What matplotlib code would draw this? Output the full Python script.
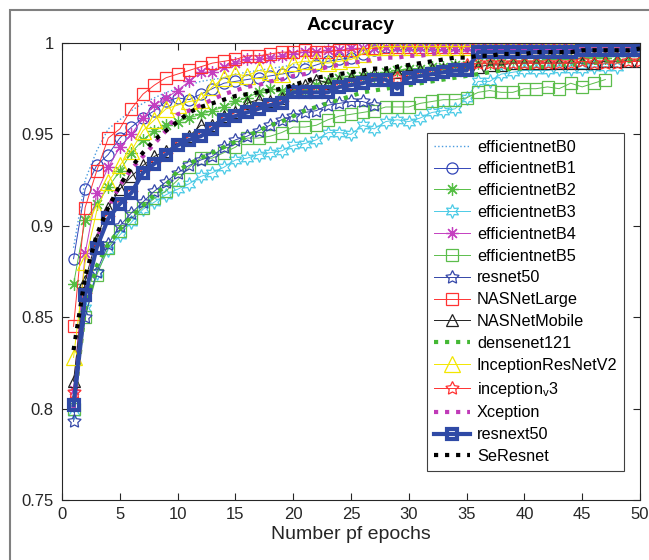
import matplotlib
matplotlib.use("Agg")
import matplotlib.pyplot as plt
from matplotlib.patches import Rectangle

plt.rcParams['font.family'] = ['Liberation Sans', 'DejaVu Sans']
plt.rcParams['mathtext.fontset'] = 'custom'
plt.rcParams['mathtext.rm'] = 'Liberation Sans'
plt.rcParams['mathtext.it'] = 'Liberation Sans'

title = "Accuracy"
xlabel = "Number pf epochs"
xticks = [0, 5, 10, 15, 20, 25, 30, 35, 40, 45, 50]
yticks = [0.75, 0.8, 0.85, 0.9, 0.95, 1.0]
ytick_labels = ["0.75", "0.8", "0.85", "0.9", "0.95", "1"]

efficientnetB0 = [0.888, 0.925, 0.941, 0.953, 0.958, 0.963, 0.967, 0.970, 0.973, 0.975,
                  0.977, 0.979, 0.980, 0.981, 0.983, 0.984, 0.985, 0.986, 0.987, 0.988,
                  0.989, 0.990, 0.991, 0.992, 0.993, 0.994, 0.995, 0.996, 0.997, 0.997,
                  0.997, 0.997, 0.998, 0.998, 0.998, 0.998, 0.998, 0.998, 0.998, 0.998,
                  0.998, 0.998, 0.998, 0.998, 0.998, 0.998, 0.998, 0.998, 0.998, 0.998]
efficientnetB1 = [0.882, 0.920, 0.933, 0.939, 0.948, 0.954, 0.959, 0.963, 0.968, 0.970,
                  0.969, 0.972, 0.975, 0.978, 0.979, 0.980, 0.981, 0.982, 0.983, 0.984,
                  0.986, 0.988, 0.990, 0.991, 0.992, 0.994, 0.996, 0.998, 0.999, 0.999,
                  0.999, 0.999, 0.999, 0.999, 0.999, 0.999, 0.999, 0.999, 0.999, 0.999,
                  0.999, 0.999, 0.999, 0.999, 0.999, 0.999, 0.999, 0.999, 0.999, 0.999]
efficientnetB2 = [0.868, 0.903, 0.912, 0.921, 0.930, 0.940, 0.947, 0.952, 0.955, 0.957,
                  0.959, 0.961, 0.963, 0.965, 0.968, 0.970, 0.973, 0.975, 0.974, 0.975,
                  0.974, 0.977, 0.979, 0.981, 0.982, 0.982, 0.982, 0.984, 0.985, 0.986,
                  0.986, 0.987, 0.987, 0.988, 0.988, 0.989, 0.989, 0.989, 0.990, 0.990,
                  0.990, 0.991, 0.991, 0.991, 0.992, 0.992, 0.992, 0.993, 0.993, 0.993]
efficientnetB3 = [0.798, 0.855, 0.874, 0.887, 0.895, 0.902, 0.909, 0.913, 0.917, 0.920,
                  0.923, 0.927, 0.929, 0.932, 0.936, 0.937, 0.939, 0.940, 0.941, 0.944,
                  0.945, 0.947, 0.951, 0.951, 0.950, 0.955, 0.953, 0.957, 0.958, 0.957,
                  0.959, 0.962, 0.963, 0.964, 0.970, 0.979, 0.979, 0.983, 0.984, 0.985,
                  0.985, 0.985, 0.986, 0.986, 0.986, 0.987, 0.987, 0.987]
efficientnetB4 = [0.810, 0.885, 0.918, 0.932, 0.943, 0.950, 0.959, 0.966, 0.970, 0.974,
                  0.979, 0.984, 0.984, 0.987, 0.989, 0.991, 0.991, 0.992, 0.993, 0.994,
                  0.995, 0.995, 0.996, 0.996, 0.997, 0.997, 0.997, 0.998, 0.998, 0.998,
                  0.998, 0.998, 0.998, 0.998, 0.998, 0.998, 0.998, 0.998, 0.998, 0.998,
                  0.998, 0.998, 0.998, 0.998, 0.998, 0.998, 0.998, 0.998, 0.998, 0.998]
efficientnetB5 = [0.800, 0.850, 0.873, 0.888, 0.897, 0.904, 0.910, 0.915, 0.919, 0.925,
                  0.932, 0.937, 0.937, 0.940, 0.943, 0.948, 0.948, 0.949, 0.951, 0.954,
                  0.954, 0.955, 0.958, 0.960, 0.961, 0.962, 0.963, 0.965, 0.965, 0.965,
                  0.967, 0.968, 0.969, 0.969, 0.970, 0.973, 0.974, 0.973, 0.973, 0.975,
                  0.975, 0.976, 0.975, 0.978, 0.976, 0.978, 0.980]
resnet50 = [0.793, 0.850, 0.875, 0.890, 0.900, 0.907, 0.913, 0.919, 0.924, 0.929,
            0.933, 0.936, 0.938, 0.943, 0.947, 0.949, 0.952, 0.955, 0.958, 0.960,
            0.962, 0.963, 0.966, 0.967, 0.968, 0.968, 0.966]
NASNetLarge = [0.845, 0.910, 0.930, 0.948, 0.953, 0.964, 0.972, 0.977, 0.981, 0.983,
               0.985, 0.987, 0.989, 0.990, 0.991, 0.993, 0.993, 0.994, 0.995, 0.995,
               0.996, 0.995, 0.995, 0.996, 0.996, 0.997, 0.997, 0.998, 0.998, 0.998,
               0.998, 0.998, 0.998, 0.998, 0.998, 0.998, 0.998, 0.998, 0.998, 0.998,
               0.998, 0.998, 0.998, 0.998, 0.998, 0.998, 0.998, 0.998, 0.998, 0.998]
NASNetMobile = [0.815, 0.870, 0.893, 0.910, 0.920, 0.927, 0.933, 0.938, 0.941, 0.945,
                0.949, 0.955, 0.955, 0.960, 0.962, 0.967, 0.969, 0.968, 0.970, 0.975,
                0.977, 0.980, 0.978, 0.979, 0.981, 0.982, 0.983, 0.983, 0.984, 0.985,
                0.985, 0.986, 0.986, 0.987, 0.987, 0.987, 0.988, 0.988, 0.989, 0.989,
                0.989, 0.989, 0.989, 0.989, 0.989, 0.989, 0.990, 0.990, 0.990, 0.990]
densenet121 = [0.800, 0.855, 0.878, 0.890, 0.898, 0.905, 0.911, 0.917, 0.922, 0.930,
               0.934, 0.937, 0.940, 0.943, 0.946, 0.949, 0.952, 0.955, 0.957, 0.960,
               0.963, 0.965, 0.967, 0.969, 0.971, 0.973, 0.974, 0.975, 0.976, 0.977,
               0.978, 0.979, 0.980, 0.981, 0.982, 0.983, 0.984, 0.985, 0.986, 0.986,
               0.987, 0.987, 0.988, 0.988, 0.989, 0.989, 0.990, 0.990, 0.990, 0.991]
InceptionResNetV2 = [0.828, 0.880, 0.908, 0.924, 0.933, 0.941, 0.952, 0.958, 0.964, 0.966,
                     0.968, 0.969, 0.976, 0.981, 0.983, 0.982, 0.985, 0.984, 0.983, 0.989,
                     0.990, 0.990, 0.989, 0.990, 0.991, 0.994, 0.998, 0.998, 0.998, 0.998,
                     0.998, 0.998, 0.998, 0.998, 0.998, 0.998, 0.998, 0.998, 0.998, 0.998,
                     0.998, 0.998, 0.998, 0.998, 0.998, 0.998, 0.998, 0.998, 0.998, 0.998]
inception_v3 = [0.809, 0.862, 0.888, 0.904, 0.912, 0.918, 0.929, 0.934, 0.939, 0.944,
                0.947, 0.949, 0.953, 0.958, 0.960, 0.962, 0.964, 0.966, 0.967, 0.973,
                0.973, 0.973, 0.973, 0.976, 0.977, 0.978, 0.980, 0.980, 0.981, 0.981,
                0.982, 0.983, 0.984, 0.985, 0.988, 0.989, 0.989, 0.989, 0.989, 0.989,
                0.989, 0.989, 0.989, 0.989, 0.990, 0.989, 0.989, 0.989, 0.990, 0.990]
Xception = [0.800, 0.862, 0.892, 0.910, 0.922, 0.931, 0.938, 0.945, 0.952, 0.961,
            0.963, 0.966, 0.969, 0.972, 0.974, 0.976, 0.977, 0.979, 0.980, 0.982,
            0.983, 0.985, 0.987, 0.988, 0.989, 0.990, 0.991, 0.992, 0.992, 0.993,
            0.993, 0.994, 0.995, 0.995, 0.996, 0.996, 0.996, 0.996, 0.997, 0.997,
            0.997, 0.997, 0.997, 0.997, 0.997, 0.997, 0.997, 0.997, 0.997, 0.997]
resnext50 = [0.802, 0.862, 0.888, 0.904, 0.912, 0.918, 0.929, 0.934, 0.939, 0.944,
             0.947, 0.949, 0.953, 0.958, 0.960, 0.962, 0.964, 0.966, 0.967, 0.973,
             0.973, 0.973, 0.973, 0.976, 0.977, 0.978, 0.980, 0.980, 0.975, 0.981,
             0.982, 0.983, 0.984, 0.985, 0.985, 0.995, 0.995, 0.995, 0.995, 0.995,
             0.995, 0.995, 0.995, 0.995, 0.996, 0.996, 0.996, 0.996, 0.996, 0.996]
SeResnet = [0.832, 0.872, 0.895, 0.910, 0.922, 0.932, 0.940, 0.947, 0.952, 0.957,
            0.962, 0.965, 0.967, 0.969, 0.971, 0.972, 0.973, 0.974, 0.975, 0.977,
            0.979, 0.981, 0.982, 0.983, 0.984, 0.985, 0.986, 0.986, 0.987, 0.988,
            0.989, 0.990, 0.991, 0.992, 0.992, 0.993, 0.993, 0.994, 0.994, 0.994,
            0.995, 0.995, 0.995, 0.995, 0.996, 0.996, 0.996, 0.996, 0.996, 0.997]

series = [
    ("efficientnetB0", efficientnetB0, dict(color='#4a9be0', ls=':', lw=1.0, marker='None')),
    ("efficientnetB1", efficientnetB1, dict(color='#3346b8', ls='-', lw=0.7, marker='o', ms=8, mfc='none', mew=0.9)),
    ("efficientnetB2", efficientnetB2, dict(color='#55be44', ls='-', lw=0.7, marker=(8, 2, 0), ms=9, mew=0.9)),
    ("efficientnetB3", efficientnetB3, dict(color='#4ccbe6', ls='-', lw=0.7, marker=(6, 1, 0), ms=10, mfc='none', mew=0.9)),
    ("efficientnetB4", efficientnetB4, dict(color='#c43fc0', ls='-', lw=0.7, marker=(8, 2, 0), ms=9, mew=0.9)),
    ("efficientnetB5", efficientnetB5, dict(color='#5cbd4c', ls='-', lw=0.7, marker='s', ms=8, mfc='none', mew=0.9)),
    ("resnet50", resnet50, dict(color='#3346a8', ls='-', lw=0.7, marker=(5, 1, 0), ms=10, mfc='none', mew=0.9)),
    ("NASNetLarge", NASNetLarge, dict(color='#ff3333', ls='-', lw=0.7, marker='s', ms=8, mfc='none', mew=0.9)),
    ("NASNetMobile", NASNetMobile, dict(color='#222222', ls='-', lw=0.7, marker='^', ms=9, mfc='none', mew=0.9)),
    ("densenet121", densenet121, dict(color='#44b834', ls=':', lw=3.0, marker='None')),
    ("InceptionResNetV2", InceptionResNetV2, dict(color='#f2e600', ls='-', lw=0.7, marker='^', ms=11, mfc='none', mew=0.9)),
    ("inception$_\\mathrm{v}$3", inception_v3, dict(color='#ff3030', ls='-', lw=0.7, marker=(5, 1, 0), ms=10, mfc='none', mew=0.9)),
    ("Xception", Xception, dict(color='#c03ab8', ls=':', lw=3.0, marker='None')),
    ("resnext50", resnext50, dict(color='#2f4aa6', ls='-', lw=3.0, marker='s', ms=7, mfc='none', mew=3.0)),
    ("SeResnet", SeResnet, dict(color='#000000', ls=':', lw=3.0, marker='None')),
]

fig = plt.figure(figsize=(6.49, 5.60), dpi=100)
ax = fig.add_axes([62/649, 1 - 500/560, (640-62)/649, (500-43)/560])

for name, vals, st in series:
    epochs = list(range(1, len(vals) + 1))
    ax.plot(epochs, vals, label=name, **st)

ax.set_xlim(0, 50)
ax.set_ylim(0.75, 1.0)
ax.set_xticks(xticks)
ax.set_yticks(yticks)
ax.set_yticklabels(ytick_labels)
ax.tick_params(direction='in', length=5, width=0.8, top=True, right=True,
               labelsize=12, colors='#262626', pad=5)
ax.tick_params(axis='y', pad=6)
for sp in ax.spines.values():
    sp.set_color('#262626')
    sp.set_linewidth(0.8)
ax.set_title(title, fontsize=14, fontweight='bold', pad=9)
ax.set_xlabel(xlabel, fontsize=14, color='#262626', labelpad=3)

leg = ax.legend(loc='upper right', bbox_to_anchor=((624-62)/578, (500-133)/457),
                borderaxespad=0, fontsize=11.7, frameon=True, fancybox=False,
                framealpha=1, edgecolor='#404040', labelspacing=0.42,
                handlelength=2.2, handletextpad=0.45, borderpad=0.4)
leg.get_frame().set_linewidth(0.8)

fig.add_artist(Rectangle((10/649, -0.2), 1.2, 1 - 10/560 + 0.2, transform=fig.transFigure,
                         fill=False, edgecolor='#808080', lw=1.5))

fig.savefig("out.png", dpi=100)
